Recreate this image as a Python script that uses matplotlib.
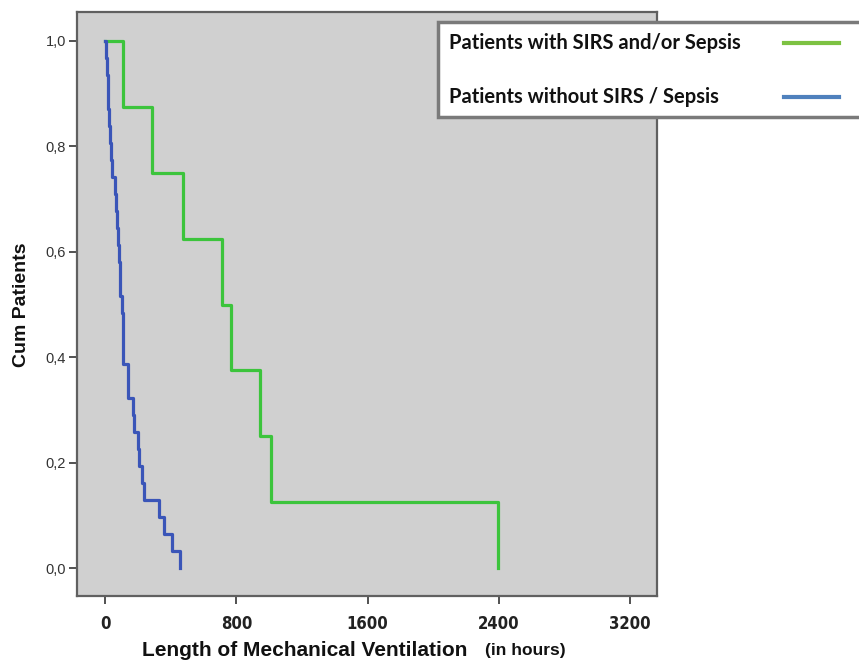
import numpy as np
import matplotlib
matplotlib.use("Agg")
from matplotlib import pyplot as plt
from matplotlib import font_manager as fm
from matplotlib.lines import Line2D
from matplotlib.patches import Rectangle

# data (hours until end of ventilation)
series_names = ["Patients with SIRS and/or Sepsis", "Patients without SIRS / Sepsis"]
sirs_hours = [110, 287, 475, 713, 768, 945, 1012, 2395]
nosirs_hours = [6, 12, 15, 18, 24, 30, 37, 43, 61, 67, 73, 79, 88, 91, 94, 104,
                107, 110, 112, 140, 142, 171, 177, 201, 207, 225, 238, 329, 360,
                408, 457]
xticks = [0, 800, 1600, 2400, 3200]
yticks = [0.0, 0.2, 0.4, 0.6, 0.8, 1.0]
ytick_labels = ["0,0", "0,2", "0,4", "0,6", "0,8", "1,0"]

plot_green = "#3cc43c"
plot_blue = "#3a55b8"
leg_green = "#7dc242"
leg_blue = "#4f81bd"

plt.rcParams['font.family'] = ['Liberation Sans', 'DejaVu Sans']

# look for a condensed bold face for the x tick numbers
cond = None
for f in fm.fontManager.ttflist:
    if f.weight in ('bold', 700) and (('Narrow' in f.name) or
                                      str(f.stretch) in ('condensed', 'semi-condensed')):
        cond = f.fname
        break
if cond:
    xt_font = fm.FontProperties(fname=cond, size=12)
else:
    xt_font = fm.FontProperties(family='Liberation Sans', weight='bold', size=11)

def curve(times):
    n = len(times)
    x = [0] + list(times)
    y = [1.0] + [1.0 - (k + 1) / n for k in range(n)]
    return x, y

W, H = 859, 661
fig = plt.figure(figsize=(W / 100, H / 100), dpi=100)
ax = fig.add_axes([77 / W, 1 - 596 / H, 580 / W, 584 / H])
ax.set_facecolor("#d0d0d0")

x, y = curve(sirs_hours)
ax.step(x, y, where='post', color=plot_green, lw=2.3)
x, y = curve(nosirs_hours)
ax.step(x, y, where='post', color=plot_blue, lw=2.3)

ax.set_xlim(-171, 3364)
ax.set_ylim(-0.053, 1.055)
for s in ax.spines.values():
    s.set_color("#606060")
    s.set_linewidth(1.6)
ax.set_xticks(xticks)
ax.set_xticklabels([str(v) for v in xticks], fontproperties=xt_font, color="#222222")
ax.set_yticks(yticks)
ax.set_yticklabels(ytick_labels, fontsize=10.5, color="#333333")
ax.tick_params(axis='x', direction='out', length=6, width=1.2, color="#333333", pad=8)
ax.tick_params(axis='y', direction='out', length=6, width=1.2, color="#333333", pad=2)

fig.text(22 / W, 1 - 305 / H, "Cum Patients", rotation=90, ha='center', va='center',
         fontsize=14, fontweight='bold', color="#111111")
fig.text(305 / W, 1 - 650 / H, "Length of Mechanical Ventilation", ha='center', va='center',
         fontsize=15, fontweight='bold', color="#111111")
fig.text(525 / W, 1 - 650 / H, "(in hours)", ha='center', va='center',
         fontsize=12.5, fontweight='bold', color="#111111")

# legend drawn by hand: text left, line sample right
fig.patches.append(Rectangle((438 / W, 1 - 117 / H), 440 / W, 95 / H, transform=fig.transFigure,
                             facecolor="white", edgecolor="#7a7a7a", lw=2.5))
for name, col, yy in zip(series_names, [leg_green, leg_blue], [43, 97]):
    fig.text(449 / W, 1 - yy / H, name, ha='left', va='center', fontsize=14.5,
             fontweight='bold', family=['Lato', 'DejaVu Sans'], color="#111111")
    fig.lines.append(Line2D([784 / W, 839 / W], [1 - yy / H, 1 - yy / H],
                            transform=fig.transFigure, color=col, lw=3))

fig.savefig("out.png", dpi=100)
